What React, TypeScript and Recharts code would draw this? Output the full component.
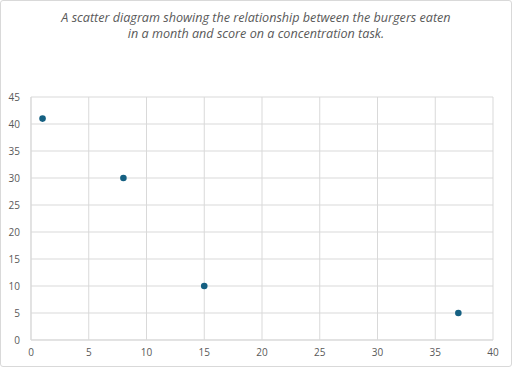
import React from "react";
import { ScatterChart, Scatter, XAxis, YAxis, CartesianGrid } from "recharts";

const burgersEaten = [1, 8, 15, 37];
const concentrationScores = [41, 30, 10, 5];
const xTicks = [0, 5, 10, 15, 20, 25, 30, 35, 40];
const yTicks = [0, 5, 10, 15, 20, 25, 30, 35, 40, 45];
const titleLines = [
  "A scatter diagram showing the relationship between the burgers eaten",
  "in a month and score on a concentration task.",
];

const data = burgersEaten.map((x, i) => ({ x, y: concentrationScores[i] }));

const tickStyle = { fill: "#595959", fontSize: 10, fontFamily: "'Open Sans', sans-serif" };

export default function App() {
  return (
    <div
      style={{
        position: "absolute",
        left: 0,
        top: 0,
        width: 512,
        height: 367,
        boxSizing: "border-box",
        border: "1px solid #d9d9d9",
        borderRadius: 3,
        background: "#fff",
      }}
    >
      <div
        style={{
          position: "absolute",
          left: 0,
          top: 9,
          width: 510,
          textAlign: "center",
          fontFamily: "'Open Sans', sans-serif",
          fontStyle: "italic",
          fontSize: 12.6,
          lineHeight: "16px",
          color: "#595959",
        }}
      >
        {titleLines.map((l, i) => (
          <div key={i}>{l}</div>
        ))}
      </div>
      <div style={{ position: "absolute", left: -1, top: -1 }}>
        <ScatterChart width={512} height={367} margin={{ top: 97, right: 19, bottom: 0, left: 9 }}>
          <CartesianGrid stroke="#d9d9d9" strokeWidth={1} />
          <XAxis
            type="number"
            dataKey="x"
            domain={[0, 40]}
            ticks={xTicks}
            interval={0}
            tickLine={false}
            tickSize={0}
            tickMargin={9}
            axisLine={{ stroke: "#d9d9d9" }}
            tick={tickStyle}
            height={27}
          />
          <YAxis
            type="number"
            dataKey="y"
            domain={[0, 45]}
            ticks={yTicks}
            interval={0}
            tickLine={false}
            tickSize={0}
            tickMargin={11}
            axisLine={{ stroke: "#d9d9d9" }}
            tick={tickStyle}
            width={22}
          />
          <Scatter data={data} fill="#156082" isAnimationActive={false} shape={(p: any) => <circle cx={p.cx} cy={p.cy} r={3.3} fill="#156082" />} />
        </ScatterChart>
      </div>
    </div>
  );
}
